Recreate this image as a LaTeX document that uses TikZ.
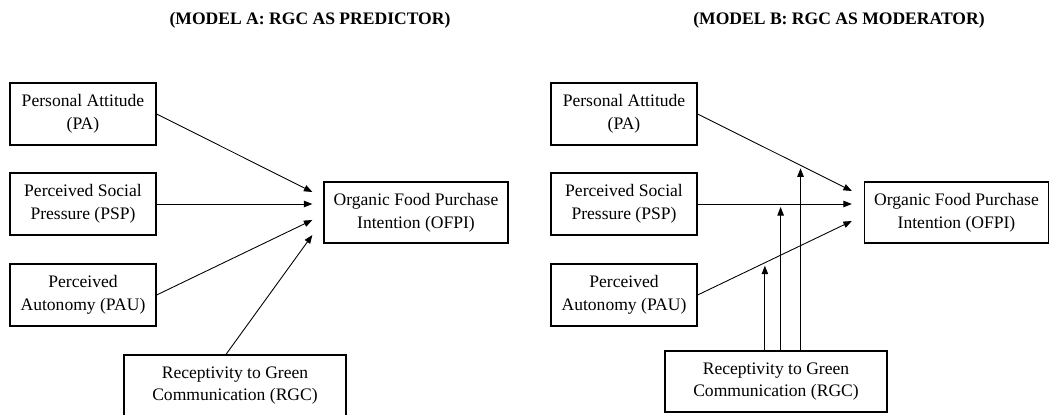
\documentclass[tikz,border=0pt]{standalone}
\usepackage{fontspec}
\setmainfont{Liberation Serif}
\usetikzlibrary{arrows.meta, positioning, calc}

\tikzset{
  varbox/.style={draw, line width=0.7pt, minimum width=2.92cm, minimum height=1.24cm,
    align=center, inner sep=2pt, font=\fontsize{10}{13}\selectfont},
  dvbox/.style={varbox, minimum width=3.68cm, minimum height=1.22cm},
  rgcbox/.style={varbox, minimum width=4.44cm, minimum height=1.22cm},
  linkarrow/.style={-{Triangle[length=0.17cm, width=0.13cm]}, line width=0.5pt},
  modtitle/.style={font=\fontsize{10}{12}\selectfont\bfseries}
}

\begin{document}
\begin{tikzpicture}
  \useasboundingbox (0,0) rectangle (21.16,-8.28);

  % Titles
  \node[modtitle] (Atitle) at (6.20,-0.40) {(MODEL A: RGC AS PREDICTOR)};
  \node[modtitle] (Btitle) at (16.78,-0.40) {(MODEL B: RGC AS MODERATOR)};

  % Predictor boxes, both models
  \foreach \nm/\txt/\y in {PA/{Personal Attitude\\(PA)}/-2.28,
                           PSP/{Perceived Social\\Pressure (PSP)}/-4.08,
                           PAU/{Perceived\\Autonomy (PAU)}/-5.90} {
    \node[varbox] (A\nm) at (1.66,\y) {\txt};
    \node[varbox] (B\nm) at (12.48,\y) {\txt};
  }

  % Outcome and RGC boxes
  \node[dvbox] (AOFPI) at (8.32,-4.25) {Organic Food Purchase\\Intention (OFPI)};
  \node[dvbox] (BOFPI) at (19.13,-4.25) {Organic Food Purchase\\Intention (OFPI)};
  \node[rgcbox] (ARGC) at (4.70,-7.71) {Receptivity to Green\\Communication (RGC)};
  \node[rgcbox] (BRGC) at (15.52,-7.63) {Receptivity to Green\\Communication (RGC)};

  % Model A: direct paths
  \coordinate (AinPA)  at ([shift={(-0.22,0.41)}]AOFPI.west);
  \coordinate (AinPSP) at ([shift={(-0.22,0.17)}]AOFPI.west);
  \coordinate (AinPAU) at ([shift={(-0.22,-0.15)}]AOFPI.west);
  \coordinate (AinRGC) at ([shift={(-0.22,-0.45)}]AOFPI.west);
  \coordinate (AoutRGC) at ([xshift=-0.18cm]ARGC.north);
  \draw[linkarrow] (APA.east) -- (AinPA);
  \draw[linkarrow] (APSP.east) -- (AinPSP);
  \draw[linkarrow] (APAU.east) -- (AinPAU);
  \draw[linkarrow] (AoutRGC) -- (AinRGC);

  % Model B: direct paths, RGC pointing at each path
  \coordinate (BinPA)  at ([shift={(-0.24,0.43)}]BOFPI.west);
  \coordinate (BinPSP) at ([shift={(-0.24,0.17)}]BOFPI.west);
  \coordinate (BinPAU) at ([shift={(-0.24,-0.17)}]BOFPI.west);
  \draw[linkarrow] (BPA.east) -- coordinate[pos=0.667] (BmPA) (BinPA);
  \draw[linkarrow] (BPSP.east) -- coordinate[pos=0.538] (BmPSP) (BinPSP);
  \draw[linkarrow] (BPAU.east) -- coordinate[pos=0.436] (BmPAU) (BinPAU);
  \foreach \m in {BmPA, BmPSP, BmPAU}
    \draw[linkarrow, shorten >=0.06cm] (BRGC.north -| \m) -- (\m);
\end{tikzpicture}
\end{document}
